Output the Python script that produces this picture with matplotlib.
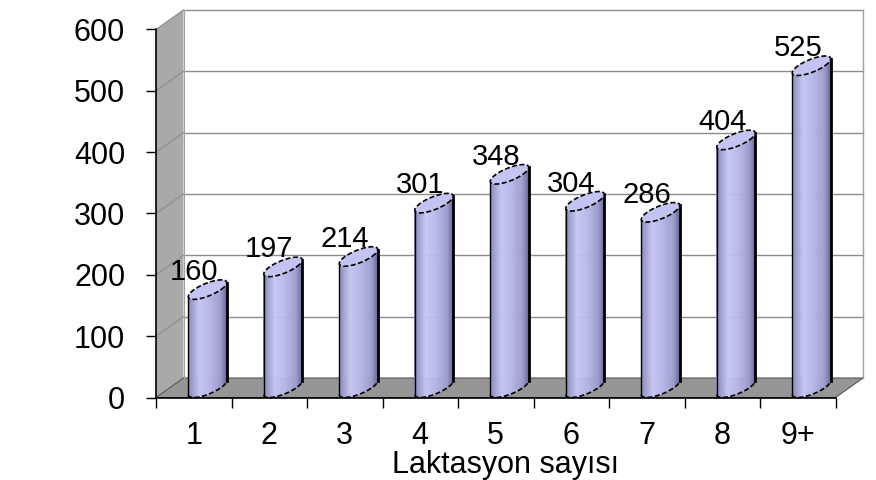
import numpy as np
import matplotlib
matplotlib.use("Agg")
import matplotlib.pyplot as plt
import matplotlib.transforms as mtransforms
from matplotlib.patches import Polygon
from matplotlib.colors import LinearSegmentedColormap

plt.rcParams["font.family"] = ["Liberation Sans", "DejaVu Sans"]

# ── Data ────────────────────────────────────────────────────────────────
categories = ["1", "2", "3", "4", "5", "6", "7", "8", "9+"]
values = [160, 197, 214, 301, 348, 304, 286, 404, 525]
y_ticks = [0, 100, 200, 300, 400, 500, 600]
x_label = "Laktasyon sayısı"

# ── 3D look (oblique projection, depth offset in pixels) ───────────────
DX, DY = 27.5, 19.5          # back plane offset
RX_PX = 13.4                 # cylinder radius along x (pixels)
WALL = "#a9a9a9"; FLOOR = "#969696"; GRID = "#8c8c8c"
TOP_FC = "#c4c4f2"
side_cmap = LinearSegmentedColormap.from_list(
    "cyl", [(0.0, "#8a8abb"), (0.3, "#c6c6f2"), (0.55, "#b9b9e9"),
            (0.85, "#9d9dcd"), (1.0, "#6e6e9e")])

fig = plt.figure(figsize=(8.76, 4.80), dpi=100)
ax = fig.add_axes([156 / 876, 82.5 / 480, 679.5 / 876, 368 / 480])
ax.set_facecolor("none")
n = len(categories)
ax.set_xlim(0, n)
ax.set_ylim(0, 600)

def depth(d, dx=True):
    return ax.transData + mtransforms.Affine2D().translate(d * DX if dx else 0, d * DY)

back = depth(1.0)
mid = depth(0.5)
label_tr = depth(1.0, dx=False)   # front x, back-plane height
ident = mtransforms.IdentityTransform()

# side wall
p0 = ax.transData.transform([[0, 0], [0, 600]])
wall_pts = np.array([p0[0], p0[1], p0[1] + [DX, DY], p0[0] + [DX, DY]])
ax.add_patch(Polygon(wall_pts, closed=True, transform=ident,
                     facecolor=WALL, edgecolor="none", clip_on=False, zorder=1))
# floor
f0 = ax.transData.transform([[0, 0], [n, 0]])
floor_pts = np.array([f0[0], f0[1], f0[1] + [DX, DY], f0[0] + [DX, DY]])
ax.add_patch(Polygon(floor_pts, closed=True, transform=ident,
                     facecolor=FLOOR, edgecolor="#555555", lw=0.8, clip_on=False, zorder=1))
# back wall gridlines and border
for v in y_ticks[1:]:
    ax.plot([0, n], [v, v], color=GRID, lw=1, transform=back, clip_on=False, zorder=1.5)
    pv = ax.transData.transform([[0, v]])[0]
    ax.plot([pv[0], pv[0] + DX], [pv[1], pv[1] + DY], color="#8f8f8f", lw=0.9,
            transform=ident, clip_on=False, zorder=1.5)
ax.plot([n, n], [0, 600], color="#a0a0a0", lw=1, transform=back, clip_on=False, zorder=1.5)
ax.plot([0, 0], [0, 600], color="#a0a0a0", lw=0.8, transform=back, clip_on=False, zorder=1.5)

# ── cylinders ──────────────────────────────────────────────────────────
pxx = ax.transData.transform((1, 0))[0] - ax.transData.transform((0, 0))[0]
pxy = ax.transData.transform((0, 1))[1] - ax.transData.transform((0, 0))[1]
rx = RX_PX / pxx
a = (DX / 2) / pxx
b = (DY / 2) / pxy
theta = np.arctan2(a, rx)
R = np.hypot(rx, a)

def ell(xc, v, t):
    return xc + rx * np.cos(t) + a * np.sin(t), v + b * np.sin(t)

for i, v in enumerate(values):
    xc = i + 0.5
    ts = np.linspace(np.pi + theta, 2 * np.pi + theta, 60)
    bx, by = ell(xc, 0, ts)
    for k in range(len(ts) - 1):
        quad = [[bx[k], by[k]], [bx[k + 1], by[k + 1]],
                [bx[k + 1], by[k + 1] + v], [bx[k], by[k] + v]]
        frac = ((bx[k] + bx[k + 1]) / 2 - (xc - R)) / (2 * R)
        c = side_cmap(frac)
        ax.add_patch(Polygon(quad, closed=True, transform=mid, facecolor=c,
                             edgecolor=c, lw=0.4, clip_on=False, zorder=3))
    ax.plot([bx[0], bx[0]], [by[0], by[0] + v], color="black", lw=1,
            transform=mid, clip_on=False, zorder=4)
    ax.plot([bx[-1], bx[-1]], [by[-1], by[-1] + v], color="black", lw=2,
            transform=mid, clip_on=False, zorder=4)
    ax.plot(bx, by, color="black", lw=1.2, ls=(0, (3, 1.5)),
            transform=mid, clip_on=False, zorder=4)
    tt = np.linspace(0, 2 * np.pi, 100)
    ex, ey = ell(xc, v, tt)
    ax.add_patch(Polygon(np.column_stack([ex, ey]), closed=True, transform=mid,
                         facecolor=TOP_FC, edgecolor="black", lw=1.2,
                         ls=(0, (3, 1.5)), clip_on=False, zorder=5))
    ax.text(xc, v, str(v), transform=label_tr, ha="center", va="baseline",
            fontsize=21, color="black", zorder=6, clip_on=False)

# ── axes ───────────────────────────────────────────────────────────────
for s in ["top", "right"]:
    ax.spines[s].set_visible(False)
for s in ["left", "bottom"]:
    ax.spines[s].set_color("black")
    ax.spines[s].set_linewidth(1.2)
    ax.spines[s].set_zorder(6)
ax.set_yticks(y_ticks)
ax.tick_params(axis="y", length=7.2, width=1, pad=15, labelsize=22)
ax.set_xticks(np.arange(n + 1))
ax.set_xticklabels([])
ax.set_xticks(np.arange(n) + 0.5, minor=True)
ax.set_xticklabels(categories, minor=True)
ax.tick_params(axis="x", which="major", length=7.2, width=1)
ax.tick_params(axis="x", which="minor", length=0, pad=17, labelsize=22)

fig.text(505 / 876, 7 / 480, x_label, ha="center", va="baseline", fontsize=22)

fig.savefig("out.png", dpi=100)
